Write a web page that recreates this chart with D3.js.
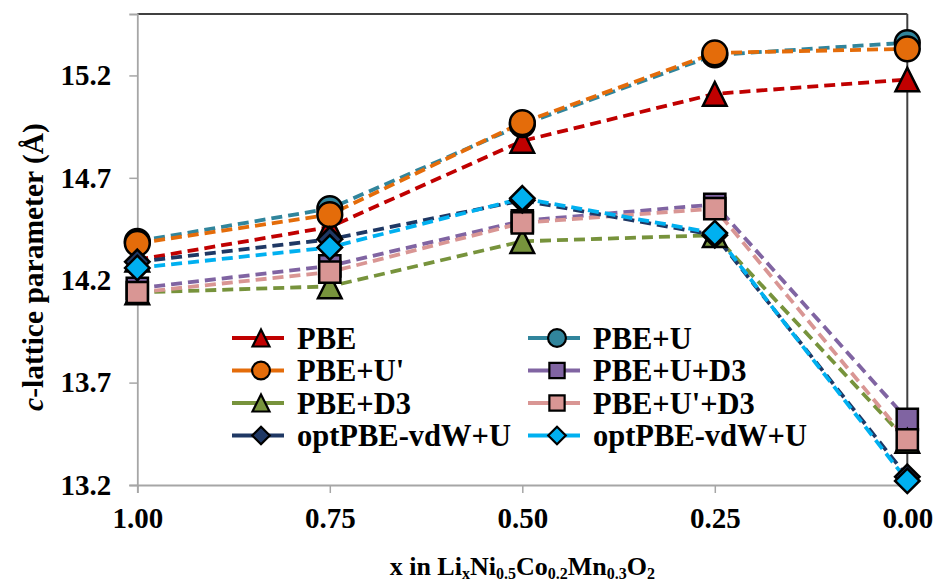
<!DOCTYPE html>
<html>
<head>
<meta charset="utf-8">
<script src="https://cdn.jsdelivr.net/npm/d3@7"></script>
<style>
  html, body { margin: 0; padding: 0; background: #fff; }
  svg { display: block; }
  text { font-family: "Liberation Serif", "Times New Roman", serif; font-weight: bold; fill: #000; }
</style>
</head>
<body>
<svg id="chart" width="938" height="584"></svg>
<script>
// ---- data ----
const xValues = [1.00, 0.75, 0.50, 0.25, 0.00];
const xTickLabels = ["1.00", "0.75", "0.50", "0.25", "0.00"];
const yTicks = [13.2, 13.7, 14.2, 14.7, 15.2];
const seriesNames = ["PBE", "PBE+U", "PBE+U'", "PBE+U+D3", "PBE+D3", "PBE+U'+D3", "optPBE-vdW+U", "optPBE-vdW+U"];
const pbe        = [14.30, 14.46, 14.88, 15.11, 15.18];
const pbeU       = [14.39, 14.55, 14.96, 15.30, 15.36];
const pbeUp      = [14.38, 14.52, 14.97, 15.31, 15.33];
const pbeUD3     = [14.16, 14.27, 14.49, 14.57, 13.52];
const pbeD3      = [14.14, 14.17, 14.39, 14.42, 13.415];
const pbeUpD3    = [14.14, 14.24, 14.48, 14.55, 13.42];
const optVdwU_1  = [14.29, 14.40, 14.59, 14.42, 13.24];
const optVdwU_2  = [14.26, 14.36, 14.60, 14.43, 13.22];

const seriesValues = [pbe, pbeU, pbeUp, pbeUD3, pbeD3, pbeUpD3, optVdwU_1, optVdwU_2];
const colors  = ["#C00000", "#31859C", "#E46C0A", "#8064A2", "#77933C", "#D99694", "#1F3864", "#00B0F0"];
const shapes  = ["triangle", "circle", "circle", "square", "triangle", "square", "diamond", "diamond"];

// ---- layout ----
const svg = d3.select("#chart");
const mLeft = 137.3, mRight = 907.3, mTop = 14, mBottom = 485;

const x = d3.scaleLinear().domain([1, 0]).range([mLeft, mRight]);
const y = d3.scaleLinear().domain([13.2, 15.5]).range([mBottom, mTop]);

function markerPath(shape, s) {
  const p = d3.path();
  if (shape === "circle") {
    const r = 12.4 * s;
    p.arc(0, 0, r, 0, 2 * Math.PI);
  } else if (shape === "triangle") {
    const w = 11.8 * s, h = 11.8 * s;
    p.moveTo(0, -h); p.lineTo(w, h); p.lineTo(-w, h); p.closePath();
  } else if (shape === "square") {
    const a = 10.6 * s;
    p.rect(-a, -a, 2 * a, 2 * a);
  } else if (shape === "diamond") {
    const a = 12.2 * s;
    p.moveTo(0, -a); p.lineTo(a, 0); p.lineTo(0, a); p.lineTo(-a, 0); p.closePath();
  }
  return p.toString();
}

// frame: top & right borders dark
svg.append("line").attr("x1", mLeft).attr("x2", mRight).attr("y1", mTop).attr("y2", mTop)
  .attr("stroke", "#404040").attr("stroke-width", 2);
svg.append("line").attr("x1", mRight).attr("x2", mRight).attr("y1", mTop).attr("y2", mBottom)
  .attr("stroke", "#404040").attr("stroke-width", 2);

// axes
const yAxis = d3.axisLeft(y).tickValues(yTicks).tickFormat(d3.format(".1f")).tickSize(8).tickPadding(18);
const gy = svg.append("g").attr("transform", `translate(${mLeft},0)`).call(yAxis);
gy.select(".domain").attr("stroke", "#A6A6A6").attr("stroke-width", 1.8);
gy.selectAll(".tick line").attr("stroke", "#A6A6A6").attr("stroke-width", 1.5);
gy.selectAll(".tick text").style("font-size", "29px").style("font-family", "Liberation Serif").style("font-weight", "bold").attr("fill", "#000");

const xAxis = d3.axisBottom(x).tickValues(xValues).tickFormat((d, i) => xTickLabels[i]).tickSize(8).tickPadding(14);
const gx = svg.append("g").attr("transform", `translate(0,${mBottom})`).call(xAxis);
gx.select(".domain").attr("stroke", "#A6A6A6").attr("stroke-width", 1.8);
gx.selectAll(".tick line").attr("stroke", "#A6A6A6").attr("stroke-width", 1.5);
gx.selectAll(".tick text").style("font-size", "29px").style("font-family", "Liberation Serif").style("font-weight", "bold").attr("fill", "#000");

// lines
const line = d3.line().x((d, i) => x(xValues[i])).y(d => y(d));
seriesValues.forEach((vals, k) => {
  svg.append("path").datum(vals)
    .attr("d", line)
    .attr("fill", "none")
    .attr("stroke", colors[k])
    .attr("stroke-width", 3.8)
    .attr("stroke-dasharray", "11,6");
});

// markers
seriesValues.forEach((vals, k) => {
  svg.append("g").selectAll("path").data(vals).join("path")
    .attr("transform", (d, i) => `translate(${x(xValues[i])},${y(d)})`)
    .attr("d", markerPath(shapes[k], 1))
    .attr("fill", colors[k])
    .attr("stroke", "#000")
    .attr("stroke-width", 2.5)
    .attr("stroke-linejoin", "miter");
});

// legend
const legCols = [232, 528];
const legRows = [338, 370.5, 403, 435.5];
const leg = svg.append("g");
seriesNames.forEach((name, k) => {
  const col = k % 2, row = Math.floor(k / 2);
  const lx = legCols[col], ly = legRows[row];
  const g = leg.append("g").attr("transform", `translate(${lx},${ly})`);
  g.append("line").attr("x1", 0).attr("x2", 52).attr("y1", 0).attr("y2", 0)
    .attr("stroke", colors[k]).attr("stroke-width", 3.8);
  g.append("path").attr("transform", "translate(29,0)")
    .attr("d", markerPath(shapes[k], 0.72))
    .attr("fill", colors[k]).attr("stroke", "#000").attr("stroke-width", 2.2);
  g.append("text").attr("x", 65).attr("y", 0).attr("dy", "0.35em")
    .style("font-size", "30.5px").text(name);
});

// y-axis title
const yt = svg.append("text")
  .attr("transform", `translate(43,267) rotate(-90)`)
  .attr("text-anchor", "middle")
  .style("font-size", "29.5px");
yt.append("tspan").style("font-style", "italic").text("c");
yt.append("tspan").text("-lattice parameter (Å)");

// x-axis title
const xt = svg.append("text")
  .attr("x", (mLeft + mRight) / 2).attr("y", 575)
  .attr("text-anchor", "middle")
  .style("font-size", "26px");
const parts = [["x in Li", false], ["x", true], ["Ni", false], ["0.5", true], ["Co", false], ["0.2", true], ["Mn", false], ["0.3", true], ["O", false], ["2", true]];
parts.forEach(([t, sub]) => {
  const ts = xt.append("tspan").text(t);
  if (sub) ts.attr("baseline-shift", "-22%").style("font-size", "16px");
});
</script>
</body>
</html>
